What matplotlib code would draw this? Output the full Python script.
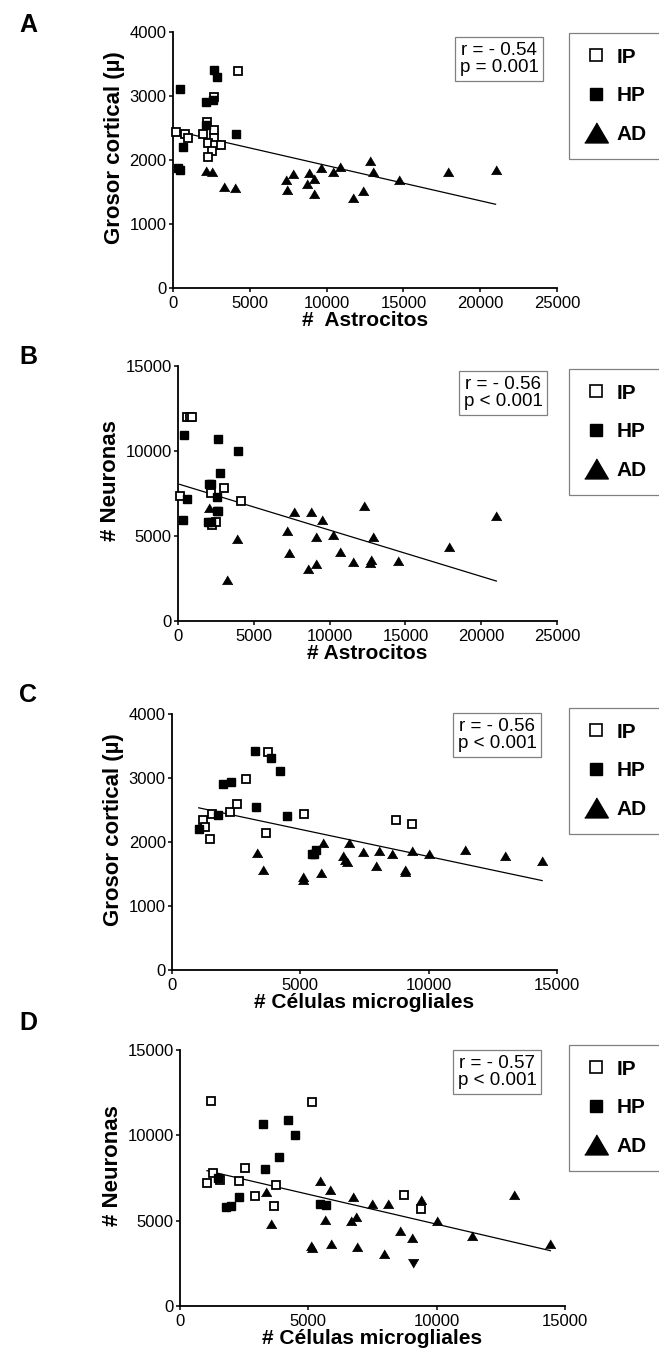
import numpy as np
import matplotlib.pyplot as plt
from matplotlib.lines import Line2D

plt.rcParams.update({'font.family': ['Liberation Sans', 'DejaVu Sans'], 'font.size': 10,
                     'axes.linewidth': 1.3})

# ---- data ----
A_IP_X = [175, 750, 960, 4250, 2680, 2240, 1970, 2680, 2680, 2280, 2720, 3110, 2570, 2280]
A_IP_Y = [2440, 2410, 2340, 3390, 2980, 2600, 2410, 2470, 2340, 2270, 2240, 2240, 2140, 2050]
A_HP_X = [440, 350, 450, 650, 2150, 2700, 2850, 2610, 2150, 4080]
A_HP_Y = [3110, 1880, 1840, 2200, 2900, 3410, 3300, 2940, 2540, 2410]
A_AD_X = [2130, 2520, 3290, 4040, 7330, 7430, 7830, 8710, 8880, 9190, 9190, 9650, 10400,
          10880, 11730, 12390, 12850, 13030, 14690, 17900, 21000]
A_AD_Y = [1830, 1810, 1580, 1560, 1680, 1530, 1780, 1630, 1790, 1700, 1470, 1870, 1810,
          1890, 1410, 1510, 1980, 1810, 1690, 1810, 1850]

B_IP_X = [600, 800, 940, 110, 2170, 3040, 4130, 2220, 2500]
B_IP_Y = [12000, 12000, 12000, 7370, 7510, 7800, 7060, 5650, 5840]
B_HP_X = [370, 2650, 3960, 2760, 2070, 2180, 590, 2540, 2540, 2670, 330, 1960, 2170]
B_HP_Y = [10920, 10700, 10000, 8680, 8040, 8040, 7170, 7310, 6470, 6470, 5940, 5840, 5840]
B_AD_X = [2070, 3910, 3220, 7200, 7670, 7310, 8780, 9070, 9480, 8590, 9070, 10240, 10700,
          11570, 12260, 12870, 12650, 12760, 14500, 17900, 21000]
B_AD_Y = [6630, 4800, 2410, 5270, 6430, 3980, 6430, 4920, 5940, 3040, 3330, 5060, 4040,
          3490, 6760, 4920, 3390, 3590, 3550, 4370, 6170]

C_IP_X = [1200, 1290, 1480, 1560, 2270, 2550, 2880, 3740, 3650, 5140, 8730, 9350]
C_IP_Y = [2350, 2240, 2050, 2440, 2470, 2590, 2990, 3400, 2140, 2430, 2340, 2280]
C_HP_X = [1040, 1790, 1990, 2310, 3230, 3840, 4210, 3290, 4470, 5450, 5610, 5550]
C_HP_Y = [2200, 2420, 2900, 2940, 3420, 3310, 3110, 2550, 2410, 1820, 1870, 1820]
C_AD_X = [3330, 3530, 5120, 5100, 5820, 5880, 6680, 6730, 6820, 6880, 7460, 7940, 8070,
          8570, 9070, 9090, 9350, 10000, 11400, 12990, 14420]
C_AD_Y = [1830, 1560, 1460, 1410, 1520, 1980, 1780, 1720, 1690, 1990, 1850, 1630, 1860,
          1810, 1560, 1530, 1860, 1810, 1880, 1780, 1700]

D_IP_X = [1210, 5160, 1050, 1270, 1560, 2300, 2550, 2910, 3750, 3650, 8740, 9380]
D_IP_Y = [12010, 11950, 7190, 7810, 7380, 7320, 8110, 6470, 7090, 5840, 6480, 5660]
D_HP_X = [1490, 1790, 1990, 2300, 3250, 3300, 3840, 4220, 4490, 5470, 5680]
D_HP_Y = [7520, 5820, 5860, 6410, 10680, 8010, 8730, 10900, 10020, 5980, 5920]
D_AD_X = [3350, 3550, 5120, 5130, 5440, 5830, 5660, 5900, 6730, 6650, 6840, 6880, 7470,
          7950, 8090, 8580, 9040, 9380, 10000, 11390, 13000, 14430]
D_AD_Y = [6660, 4820, 3500, 3380, 7320, 6800, 5040, 3630, 6410, 4980, 5230, 3440, 5960,
          3070, 5960, 4410, 4000, 6210, 4980, 4100, 6480, 3610]
D_ADV_X = [9090]   # the one point drawn with a downward triangle
D_ADV_Y = [2500]

STATS = ['r = - 0.54\np = 0.001', 'r = - 0.56\np < 0.001',
         'r = - 0.56\np < 0.001', 'r = - 0.57\np < 0.001']
XLABELS = ['#  Astrocitos', '# Astrocitos', '# Células microgliales', '# Células microgliales']
YLABELS = ['Grosor cortical (µ)', '# Neuronas', 'Grosor cortical (µ)', '# Neuronas']
LETTERS = ['A', 'B', 'C', 'D']
GROUPS = ['IP', 'HP', 'AD']

# ---- layout (pixels of the 659 x 1360 image) ----
W, H = 659, 1360
AX_PX = [(173, 557, 32, 288), (178, 557, 366, 621), (172, 557, 714, 970), (180, 565, 1050, 1306)]
STAT_PX = [(499, 59), (503, 393), (497, 735), (497, 1072)]
LEG_PX = [(569, 33), (569, 369), (569, 708), (569, 1045)]
LET_PX = [(28, 25), (28, 357), (28, 695), (28, 1023)]
XLIM = [25000, 25000, 15000, 15000]
YLIM = [4000, 15000, 4000, 15000]
YSTEP = [1000, 5000, 1000, 5000]

TRI = [(-1, -0.8), (1, -0.8), (0, 0.9)]
TRI_DOWN = [(-1, 0.8), (1, 0.8), (0, -0.9)]

panels = [
    (A_IP_X, A_IP_Y, A_HP_X, A_HP_Y, A_AD_X, A_AD_Y, [], []),
    (B_IP_X, B_IP_Y, B_HP_X, B_HP_Y, B_AD_X, B_AD_Y, [], []),
    (C_IP_X, C_IP_Y, C_HP_X, C_HP_Y, C_AD_X, C_AD_Y, [], []),
    (D_IP_X, D_IP_Y, D_HP_X, D_HP_Y, D_AD_X, D_AD_Y, D_ADV_X, D_ADV_Y),
]

fig = plt.figure(figsize=(W / 100, H / 100), dpi=100)

for i, (ipx, ipy, hpx, hpy, adx, ady, vx, vy) in enumerate(panels):
    l, r, t, b = AX_PX[i]
    ax = fig.add_axes([l / W, 1 - b / H, (r - l) / W, (b - t) / H])

    ax.plot(ipx, ipy, ls='none', marker='s', ms=6, mfc='white', mec='black', mew=1.3, clip_on=False, zorder=3)
    ax.plot(hpx, hpy, ls='none', marker='s', ms=6, mfc='black', mec='black', clip_on=False, zorder=3)
    ax.plot(adx, ady, ls='none', marker=TRI, ms=7.5, mfc='black', mec='black', mew=0.5, clip_on=False, zorder=3)
    if vx:
        ax.plot(vx, vy, ls='none', marker=TRI_DOWN, ms=7.5, mfc='black', mec='black', mew=0.5, zorder=3)

    xs_all = np.concatenate([ipx, hpx, adx, vx]).astype(float)
    ys_all = np.concatenate([ipy, hpy, ady, vy]).astype(float)
    fit = np.polyfit(xs_all, ys_all, 1)
    xl = np.array([xs_all.min(), xs_all.max()])
    ax.plot(xl, np.polyval(fit, xl), color='black', lw=0.9, zorder=2)

    ax.set_xlim(0, XLIM[i])
    ax.set_ylim(0, YLIM[i])
    ax.set_xticks(np.arange(0, XLIM[i] + 1, 5000))
    ax.set_yticks(np.arange(0, YLIM[i] + 1, YSTEP[i]))
    ax.spines[['top', 'right']].set_visible(False)
    ax.tick_params(direction='out', length=3, width=1.1, labelsize=12, pad=1.5)
    ax.tick_params(axis='x', pad=3)
    ax.set_xlabel(XLABELS[i], fontsize=15, fontweight='bold', labelpad=0)
    ax.set_ylabel(YLABELS[i], fontsize=16, fontweight='bold', labelpad=3)
    ax.yaxis.label.set_y(0.55)

    sx, sy = STAT_PX[i]
    fig.text(sx / W, 1 - sy / H, STATS[i], ha='center', va='center', fontsize=13.5,
             multialignment='center', linespacing=1.0,
             bbox=dict(boxstyle='square,pad=0.25', fc='white', ec='#808080', lw=0.9))

    lx, ly = LET_PX[i]
    fig.text(lx / W, 1 - ly / H, LETTERS[i], ha='center', va='center', fontsize=18, fontweight='bold')

    handles = [
        Line2D([], [], ls='none', marker='s', ms=8.5, mfc='white', mec='black', mew=1.2),
        Line2D([], [], ls='none', marker='s', ms=8.5, mfc='black', mec='black'),
        Line2D([], [], ls='none', marker=TRI, ms=17, mfc='black', mec='black'),
    ]
    gx, gy = LEG_PX[i]
    leg = fig.legend(handles, GROUPS, loc='upper left', bbox_to_anchor=(gx / W, 1 - gy / H),
                     frameon=True, fancybox=False, edgecolor='#808080', framealpha=1,
                     prop={'weight': 'bold', 'size': 15}, handlelength=1.2, handletextpad=0.4,
                     labelspacing=0.95, borderpad=0.7, borderaxespad=0, markerscale=1)
    leg.get_frame().set_linewidth(0.9)

fig.savefig('out.png', dpi=100)
